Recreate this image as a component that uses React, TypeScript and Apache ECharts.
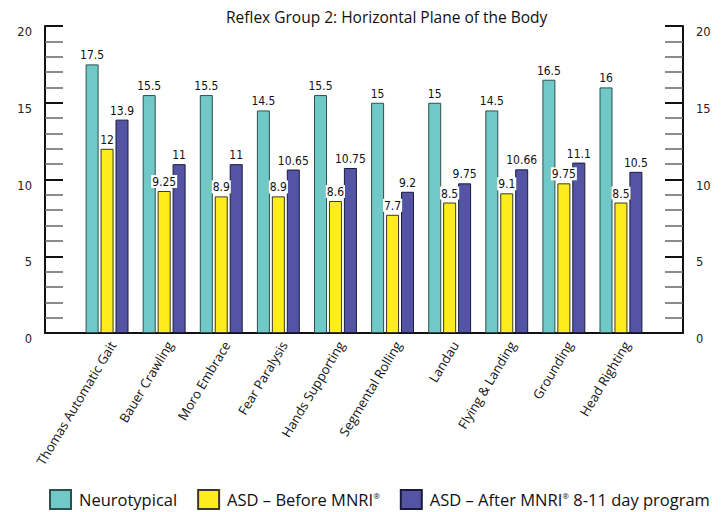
import React, { useEffect, useRef } from "react";
import * as echarts from "echarts";

const categories = [
  "Thomas Automatic Gait",
  "Bauer Crawling",
  "Moro Embrace",
  "Fear Paralysis",
  "Hands Supporting",
  "Segmental Rolling",
  "Landau",
  "Flying & Landing",
  "Grounding",
  "Head Righting",
];
const neurotypical = [17.5, 15.5, 15.5, 14.5, 15.5, 15, 15, 14.5, 16.5, 16];
const asdBefore = [12, 9.25, 8.9, 8.9, 8.6, 7.7, 8.5, 9.1, 9.75, 8.5];
const asdAfter = [13.9, 11, 11, 10.65, 10.75, 9.2, 9.75, 10.66, 11.1, 10.5];
const seriesNames = [
  "Neurotypical",
  "ASD – Before MNRI®",
  "ASD – After MNRI® 8-11 day program",
];
const titleText = "Reflex Group 2: Horizontal Plane of the Body";

const NARROW = "'Liberation Sans Narrow', 'DejaVu Sans Condensed', sans-serif";
const SANS = "'Open Sans', 'Noto Sans', sans-serif";

export default function App() {
  const ref = useRef<HTMLDivElement>(null);
  useEffect(() => {
    if (!ref.current) return;
    const chart = echarts.init(ref.current, undefined, { renderer: "svg" });
    const gridTop = 26;
    const gridBottom = 179;
    const yAxisCommon = (position: "left" | "right") => ({
      type: "value",
      gridIndex: 1,
      position,
      min: 0,
      max: 20,
      interval: 5,
      axisLine: { show: true, lineStyle: { color: "#111", width: 2 } },
      axisTick: { show: true, inside: true, length: 18, lineStyle: { color: "#111", width: 2 } },
      minorTick: { show: true, splitNumber: 5, length: 18, lineStyle: { color: "#666", width: 1.5 } },
      splitLine: { show: false },
      minorSplitLine: { show: false },
      axisLabel: {
        fontFamily: "'DejaVu Sans', sans-serif",
        fontSize: 11.5,
        color: "#222",
        margin: 13,
        verticalAlign: "top",
      },
    });
    const labelBase = {
      show: true,
      position: "top",
      distance: 3,
      fontFamily: NARROW,
      fontSize: 12,
      color: "#111",
    };
    chart.setOption({
      animation: false,
      backgroundColor: "#fff",
      title: {
        text: titleText,
        left: 221,
        top: 4,
        textStyle: { fontFamily: SANS, fontSize: 15.5, fontWeight: "normal", color: "#111" },
      },
      legend: {
        left: 44,
        top: 484,
        itemWidth: 21,
        itemHeight: 19,
        itemGap: 20,
        icon: "rect",
        data: seriesNames,
        formatter: (name: string) => name.replace("®", "{sup|®}"),
        textStyle: {
          fontFamily: SANS,
          fontSize: 16.5,
          color: "#111",
          padding: [0, 0, 0, 3],
          rich: {
            sup: { fontFamily: SANS, fontSize: 8, color: "#111", verticalAlign: "top", padding: [0, 0, 8, 0] },
          },
        },
      },
      grid: [
        { left: 78.5, right: 76.5, top: gridTop, bottom: gridBottom },
        { left: 45, right: 43, top: gridTop, bottom: gridBottom },
      ],
      xAxis: [
        {
          type: "category",
          gridIndex: 0,
          data: categories,
          axisLine: { show: false },
          axisTick: { show: false },
          axisLabel: {
            interval: 0,
            rotate: 59,
            margin: 6,
            verticalAlign: "top",
            fontFamily: SANS,
            fontSize: 13,
            color: "#111",
          },
        },
        {
          type: "value",
          gridIndex: 1,
          min: 0,
          max: 1,
          axisLine: { show: true, onZero: false, lineStyle: { color: "#111", width: 2 } },
          axisTick: { show: false },
          axisLabel: { show: false },
          splitLine: { show: false },
        },
      ],
      yAxis: [
        yAxisCommon("left"),
        yAxisCommon("right"),
        { type: "value", gridIndex: 0, min: 0, max: 20, show: false, splitLine: { show: false } },
      ],
      series: [
        {
          name: seriesNames[0],
          type: "bar",
          xAxisIndex: 0,
          yAxisIndex: 2,
          data: neurotypical,
          barWidth: 13,
          barGap: "15%",
          itemStyle: { color: "#70C9C6", borderColor: "#2f4f4d", borderWidth: 1 },
          label: { ...labelBase },
        },
        {
          name: seriesNames[1],
          type: "bar",
          xAxisIndex: 0,
          yAxisIndex: 2,
          data: asdBefore,
          barWidth: 13,
          barGap: "15%",
          itemStyle: { color: "#FFEC1C", borderColor: "#3a3a22", borderWidth: 1 },
          label: { ...labelBase, backgroundColor: "#fff", padding: [1, 1, 0, 1] },
        },
        {
          name: seriesNames[2],
          type: "bar",
          xAxisIndex: 0,
          yAxisIndex: 2,
          data: asdAfter,
          barWidth: 13,
          barGap: "15%",
          itemStyle: { color: "#5454A4", borderColor: "#1a1a3a", borderWidth: 1 },
          label: { ...labelBase },
        },
      ],
    });
    return () => chart.dispose();
  }, []);
  return (
    <div
      ref={ref}
      style={{ position: "fixed", left: 0, top: 0, width: 726, height: 512, background: "#fff" }}
    />
  );
}
